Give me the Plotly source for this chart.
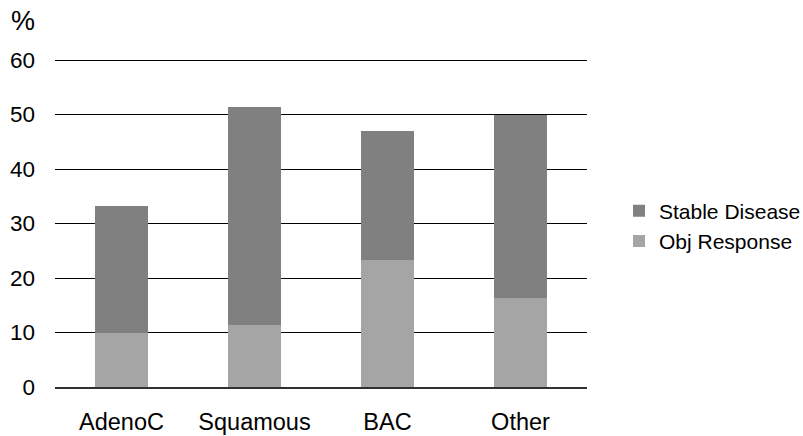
import plotly.graph_objects as go

categories = ["AdenoC", "Squamous", "BAC", "Other"]
obj_response = [10.0, 11.3, 23.4, 16.4]
stable_disease = [23.3, 40.0, 23.5, 33.6]
y_ticks = [0, 10, 20, 30, 40, 50, 60]

FONT = "Liberation Sans, Arial, sans-serif"

PLOT_L, PLOT_R = 55, 587
PLOT_B = 387.5
Y_MAX = 60.2
PLOT_H = Y_MAX * 5.45
PLOT_T = PLOT_B - PLOT_H
FIG_W, FIG_H = 803, 436

def px_to_paper_x(px):
    return (px - PLOT_L) / (PLOT_R - PLOT_L)

def px_to_paper_y(py):
    return (PLOT_B - py) / PLOT_H

fig = go.Figure()
fig.add_trace(go.Bar(x=categories, y=obj_response, name="Obj Response",
                     marker=dict(color="#a5a5a5", line=dict(width=0))))
fig.add_trace(go.Bar(x=categories, y=stable_disease, name="Stable Disease",
                     marker=dict(color="#808080", line=dict(width=0))))

fig.update_layout(
    barmode="stack",
    bargap=0.6,
    width=FIG_W, height=FIG_H,
    margin=dict(l=PLOT_L, r=FIG_W - PLOT_R, t=PLOT_T, b=FIG_H - PLOT_B,
                autoexpand=False),
    paper_bgcolor="white", plot_bgcolor="white",
    font=dict(family=FONT, size=21, color="black"),
    showlegend=True,
    legend=dict(x=px_to_paper_x(619), y=px_to_paper_y(226.5), xanchor="left",
                yanchor="middle", traceorder="reversed", font=dict(size=21),
                itemwidth=30, tracegroupgap=0, bgcolor="rgba(0,0,0,0)"),
    xaxis=dict(showgrid=False, showline=True, linecolor="#303030", linewidth=2,
               ticks="", tickfont=dict(size=23.5), ticklabelstandoff=13),
    yaxis=dict(range=[0, Y_MAX], tickvals=y_ticks, showgrid=True, gridcolor="black",
               gridwidth=1, zeroline=False, showline=False, ticks="",
               tickfont=dict(size=22.5), ticklabelstandoff=19),
    annotations=[dict(text="%", x=px_to_paper_x(9), y=px_to_paper_y(21.5),
                      xref="paper", yref="paper", showarrow=False,
                      font=dict(size=27), xanchor="left", yanchor="middle")],
)

fig.write_html("out.html", config={"displayModeBar": False},
               post_script="document.body.style.margin='0';")
